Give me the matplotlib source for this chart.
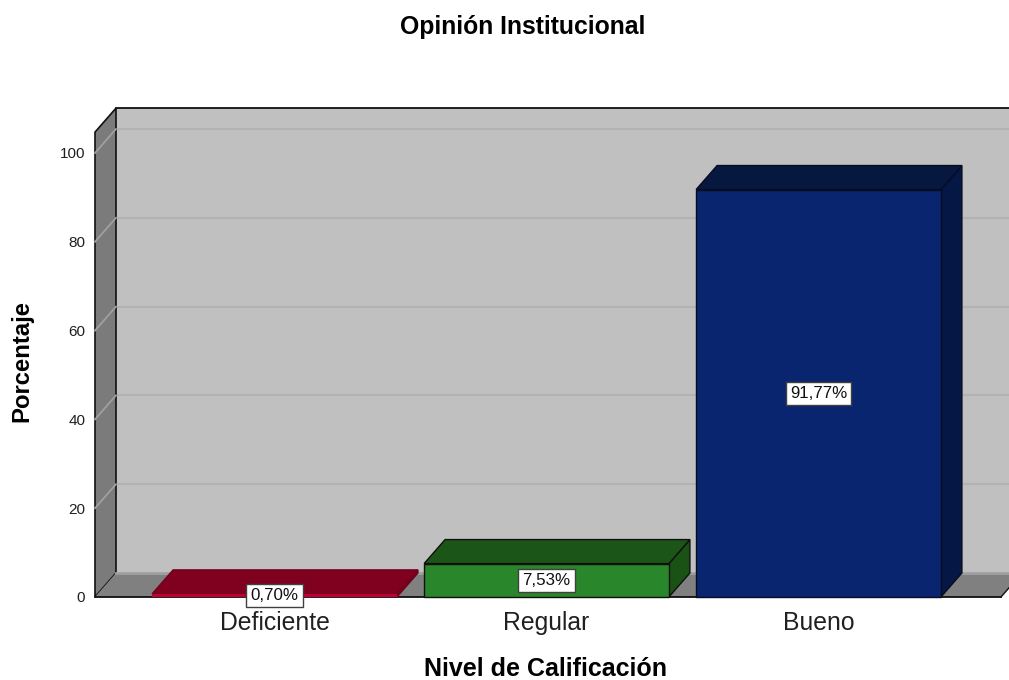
import numpy as np
import matplotlib
matplotlib.use('Agg')
import matplotlib.pyplot as plt
from matplotlib.patches import Polygon

categorias = ['Deficiente', 'Regular', 'Bueno']
porcentajes = [0.70, 7.53, 91.77]
etiquetas = ['0,70%', '7,53%', '91,77%']
y_ticks = [0, 20, 40, 60, 80, 100]

color_frente = ['#c00030', '#29862a', '#0a2570']
color_tapa = ['#80001f', '#1c5518', '#061840']
color_lado = ['#80001f', '#1a5216', '#051745']
color_borde = ['#70001c', '#101010', '#080c20']

plt.rcParams['font.family'] = ['Liberation Sans', 'DejaVu Sans']

W, H = 1009, 680
fig = plt.figure(figsize=(W / 100, H / 100), dpi=100)

# ejes alineados con el plano frontal del grafico
x0_px, y0_px = 274.5, 597
px_x, px_y = 272, 4.44
ax = fig.add_axes([95 / W, (H - 597) / H, (W - 95) / W, (597 - 100) / H])
ax.set_xlim((95 - x0_px) / px_x, (W - x0_px) / px_x)
ax.set_ylim(0, (597 - 100) / px_y)
ax.patch.set_visible(False)
for s in ax.spines.values():
    s.set_visible(False)

# profundidad del efecto 3D en unidades de datos
dx = 21 / px_x
dy = 24 / px_y
x_izq = (95 - x0_px) / px_x
x_der = (1001 - x0_px) / px_x
y_top = 104.7
ancho = 0.9


def poli(puntos, color, z, ec='#101010', lw=1.0):
    ax.add_patch(Polygon(puntos, closed=True, fc=color, ec=ec, lw=lw, zorder=z,
                         clip_on=False, joinstyle='miter'))


# paredes y piso
poli([(x_izq + dx, dy), (x_der + 2 * dx, dy), (x_der + 2 * dx, y_top + dy), (x_izq + dx, y_top + dy)],
     '#c0c0c0', 1, ec='none', lw=0)
poli([(x_izq, 0), (x_izq + dx, dy), (x_izq + dx, y_top + dy), (x_izq, y_top)], '#7b7b7b', 2, lw=1.2)
poli([(x_izq, 0), (x_der, 0), (x_der + dx, dy), (x_izq + dx, dy)], '#808080', 2, ec='none', lw=0)

ax.plot([x_izq, x_der], [0, 0], color='#101010', lw=1.3, zorder=3, clip_on=False)
ax.plot([x_der, x_der + dx], [0, dy], color='#101010', lw=1.0, zorder=3, clip_on=False)
ax.plot([x_izq + dx, x_der + 2 * dx], [y_top + dy, y_top + dy], color='#101010', lw=1.3, zorder=3, clip_on=False)
ax.plot([x_izq + dx, x_der + 2 * dx], [dy, dy], color='#a0a0a0', lw=2, zorder=2.2, clip_on=False)

# lineas de cuadricula
for v in y_ticks[1:]:
    ax.plot([x_izq + dx, x_der + 2 * dx], [v + dy, v + dy], color='#b2b2b2', lw=1.5, zorder=1.5, clip_on=False)
    ax.plot([x_izq, x_izq + dx], [v, v + dy], color='#a0a0a0', lw=1.3, zorder=2.5, clip_on=False)

# barras
for i, v in enumerate(porcentajes):
    a = i - ancho / 2
    b = i + ancho / 2
    poli([(b, 0), (b + dx, dy), (b + dx, v + dy), (b, v)], color_lado[i], 4, ec=color_borde[i])
    poli([(a, v), (b, v), (b + dx, v + dy), (a + dx, v + dy)], color_tapa[i], 4, ec=color_borde[i])
    poli([(a, 0), (b, 0), (b, v), (a, v)], color_frente[i], 5, ec=color_borde[i] if i else 'none')
    ax.text(i, v / 2, etiquetas[i], ha='center', va='center', fontsize=12.2, color='#101010', zorder=8,
            bbox=dict(boxstyle='square,pad=0.24', fc='white', ec='#404040', lw=1))

ax.set_xticks(np.arange(len(categorias)))
ax.set_xticklabels(categorias, fontsize=17.8, color='#202020')
ax.set_yticks(y_ticks)
ax.tick_params(axis='x', length=0, pad=10)
ax.tick_params(axis='y', length=0, pad=7, labelsize=11, labelcolor='#202020')

ax.set_xlabel('Nivel de Calificación', fontsize=18, fontweight='bold')
ax.xaxis.set_label_coords((546 - 95) / (W - 95), -(669 - 597) / (597 - 100), transform=ax.transAxes)
ax.xaxis.label.set_va('center')
ax.set_ylabel('Porcentaje', fontsize=17.2, fontweight='bold')
ax.yaxis.set_label_coords(-(95 - 22) / (W - 95), (597 - 361) / (597 - 100), transform=ax.transAxes)
ax.yaxis.label.set_va('center')

fig.text(522.5 / W, 1 - 27 / H, 'Opinión Institucional', ha='center', va='center', fontsize=17.8, fontweight='bold')

plt.savefig('out.png', dpi=100)
